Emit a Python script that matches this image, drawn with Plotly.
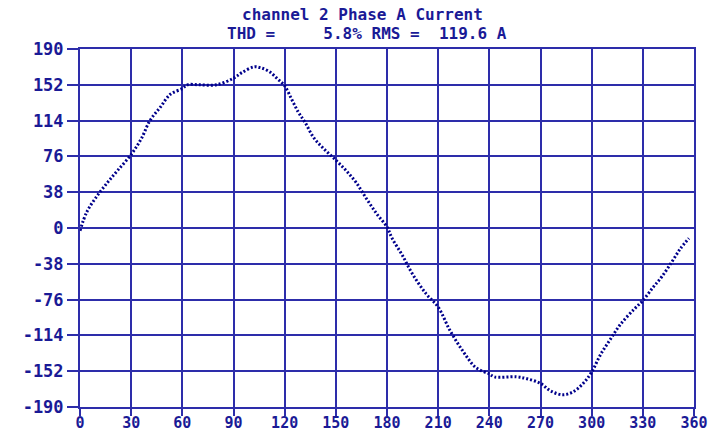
import plotly.graph_objects as go

# waveform (degrees vs amps)
angle = [0, 4, 10, 16, 22, 30, 36, 41, 47, 53, 60, 63, 70, 80, 90, 95, 102, 106,
         111, 116, 120, 124, 128, 132, 137, 143, 150, 156, 162, 168, 174, 180, 183,
         189, 195, 203, 210, 217, 225, 232, 240, 243, 256, 262, 270, 276, 283, 289,
         295, 300, 305, 311, 317, 325, 330, 336, 341, 347, 352, 357]
current = [-3, 17, 34, 48, 61, 78, 95, 114, 128, 142, 148, 152, 152, 152, 159, 165,
           171, 170, 166, 158, 151, 137, 123, 112, 96, 84, 72, 61, 48, 31, 15, 1, -11,
           -29, -49, -70, -84, -109, -132, -148, -155, -158, -158, -160, -165, -173,
           -177, -174, -165, -153, -135, -118, -102, -86, -77, -63, -52, -36, -22, -11]

x_ticks = list(range(0, 361, 30))
y_ticks = [-190, -152, -114, -76, -38, 0, 38, 76, 114, 152, 190]

title_lines = ["channel 2 Phase A Current", "THD =     5.8% RMS =  119.6 A"]

text_col = "#1a1a96"
grid_col = "#2d2daa"
font = dict(family="DejaVu Sans Mono", size=17, color=text_col)
xfont = dict(family="DejaVu Sans Mono", size=15, color=text_col)
title_font = dict(family="DejaVu Sans Mono", size=16, color=text_col)

fig = go.Figure()
fig.add_trace(go.Scatter(
    x=angle, y=current, mode="lines", line_shape="spline",
    line=dict(color="#00008b", width=3, dash="2px,2px"),
    hoverinfo="skip", showlegend=False,
))

# two title lines, spaces kept with nbsp
title_x = [0.460, 0.468]
for i, t in enumerate(title_lines):
    fig.add_annotation(
        text="<b>" + t.replace(" ", "\u00a0") + "</b>",
        xref="paper", yref="paper", x=title_x[i], y=1.0, yshift=34.5 - i * 19,
        showarrow=False, font=title_font, xanchor="center", yanchor="middle",
        borderpad=0,
    )

axis_common = dict(
    showgrid=True, gridcolor=grid_col, gridwidth=2,
    showline=True, linecolor=grid_col, linewidth=2, mirror=True,
    ticks="outside", tickcolor=grid_col, tickwidth=2,
    zeroline=False, automargin=False,
)
fig.update_xaxes(range=[0, 360], tickvals=x_ticks,
                 ticktext=["<b>%d</b>" % v for v in x_ticks],
                 ticklen=7, ticklabelstandoff=-6, tickfont=xfont, **axis_common)
fig.update_yaxes(range=[-190, 190], tickvals=y_ticks,
                 ticktext=["<b>%d</b>" % v for v in y_ticks],
                 ticklen=11, tickfont=font, **axis_common)

fig.update_layout(
    width=713, height=432,
    margin=dict(l=80, r=19, t=49, b=25, autoexpand=False),
    plot_bgcolor="white", paper_bgcolor="white",
)

# page body has a default 8px margin, drop it so the chart sits at 0,0
fig.write_html("out.html", config={"displayModeBar": False},
               post_script="document.body.style.margin='0';")
